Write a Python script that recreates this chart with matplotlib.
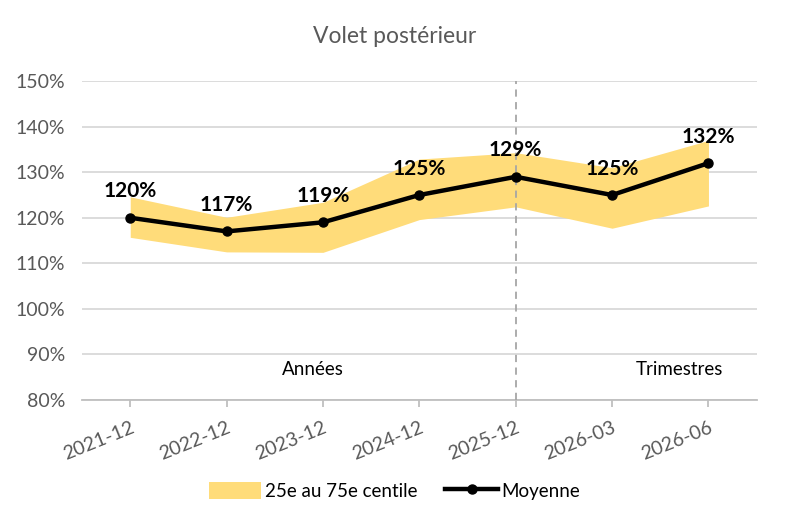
import numpy as np
import matplotlib
matplotlib.use("Agg")
import matplotlib.pyplot as plt
from matplotlib.ticker import FuncFormatter

# --- data ---------------------------------------------------------
periods = ["2021-12", "2022-12", "2023-12", "2024-12", "2025-12", "2026-03", "2026-06"]
mean_vals = [120, 117, 119, 125, 129, 125, 132]
p25_vals = [115.7, 112.5, 112.4, 119.6, 122.4, 117.7, 122.6]
p75_vals = [124.6, 120.1, 123.4, 132.9, 134.3, 131.0, 137.0]
split_period = "2025-12"

plt.rcParams['font.family'] = ['Lato', 'DejaVu Sans']
GREY = "#595959"

fig = plt.figure(figsize=(7.89, 5.24), dpi=100)
ax = fig.add_axes([0.104, 0.237, 0.855, 0.608])

x = np.arange(len(periods))
ax.fill_between(x, p25_vals, p75_vals, color="#FFDC7A", linewidth=0,
                label="25e au 75e centile", zorder=2)
ax.plot(x, mean_vals, color="black", lw=3.2, marker="o", ms=6.5,
        label="Moyenne", zorder=4)

for xi, v in zip(x, mean_vals):
    ax.annotate(f"{v}%", (xi, v), xytext=(0, 19), textcoords="offset points",
                ha="center", va="center", fontsize=15, fontweight="bold",
                color="black", zorder=5)

xs = periods.index(split_period)
ax.axvline(xs, color="#A6A6A6", ls=(0, (4, 3)), lw=1.3, zorder=3)

ax.text(1.9, 86.6, "Années", ha="center", va="center", fontsize=13.5, color="black")
ax.text(5.7, 86.6, "Trimestres", ha="center", va="center", fontsize=13.5, color="black")

ax.set_xlim(-0.5, len(periods) - 0.5)
ax.set_ylim(80, 150)
ax.set_yticks(np.arange(80, 151, 10))
ax.yaxis.set_major_formatter(FuncFormatter(lambda v, p: f"{v:.0f}%"))
ax.grid(axis="y", color="#D9D9D9", lw=1.3, zorder=0)
ax.set_axisbelow(True)

ax.set_xticks(x)
ax.set_xticklabels(periods, rotation=22, ha="right", rotation_mode="anchor")
ax.tick_params(axis="x", colors="#BFBFBF", length=5, width=1.3, labelcolor=GREY,
               labelsize=14, pad=9)
ax.tick_params(axis="y", length=0, labelcolor=GREY, labelsize=14, pad=12)

for s in ["top", "right", "left"]:
    ax.spines[s].set_visible(False)
ax.spines["bottom"].set_color("#BFBFBF")
ax.spines["bottom"].set_linewidth(1.3)

fig.text(0.5, 0.93, "Volet postérieur", ha="center", va="center",
         fontsize=16.5, color=GREY)

fig.legend(loc="center", bbox_to_anchor=(0.5, 0.063), ncol=2, frameon=False,
           fontsize=13.5, handlelength=2.8, handleheight=1.0,
           columnspacing=1.5, handletextpad=0.2)

fig.savefig("out.png", dpi=100)
